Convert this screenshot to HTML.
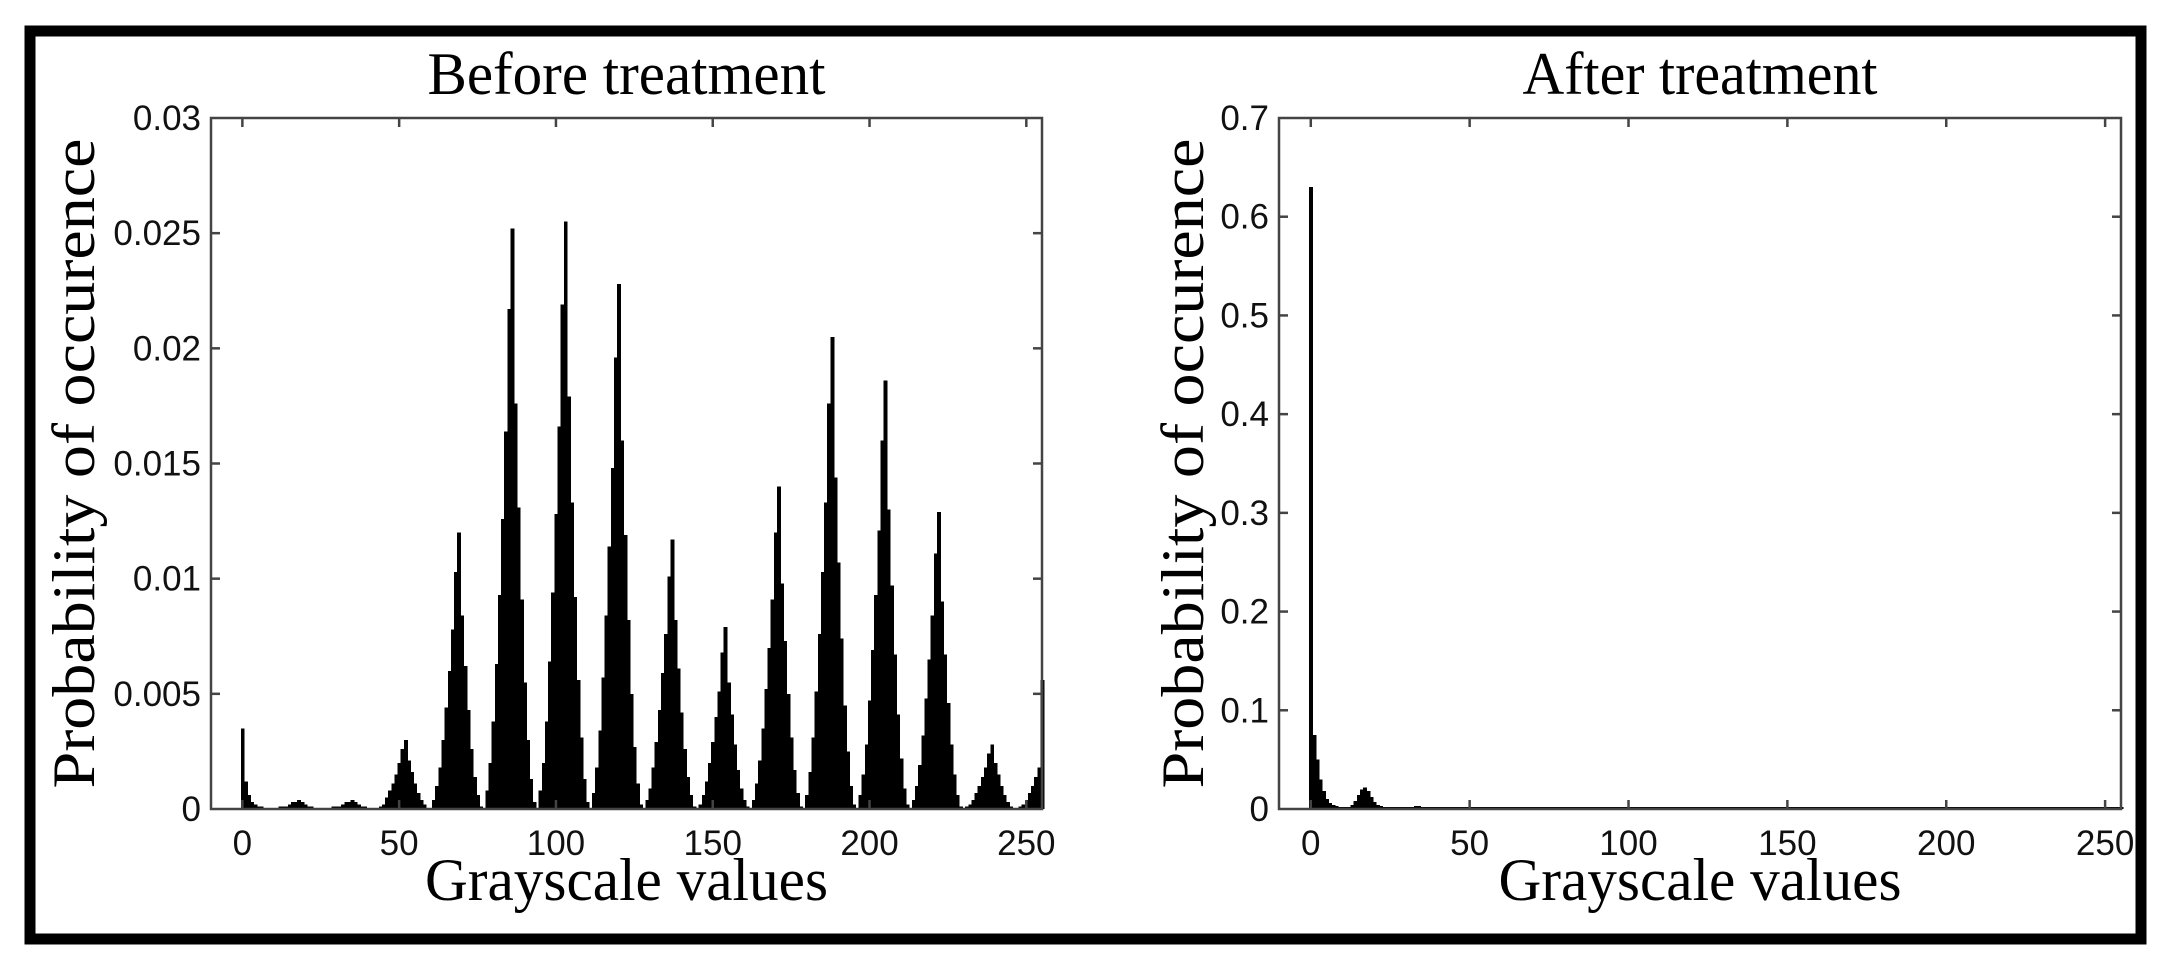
<!DOCTYPE html>
<html><head><meta charset="utf-8"><style>
html,body{margin:0;padding:0;background:#fff;}
svg{display:block;}
.tk{font-family:"Liberation Sans",Arial,sans-serif;font-size:35px;fill:#111;}
.sr{font-family:"Liberation Serif","Times New Roman",serif;font-size:60px;fill:#000;}
</style></head><body>
<svg id="fig" width="2173" height="971" viewBox="0 0 2173 971" xmlns="http://www.w3.org/2000/svg">
<rect x="30" y="31" width="2111" height="908" fill="none" stroke="#000" stroke-width="11"/>
<g id="left"></g>
<g id="right"></g>
</svg>
<script>
// Before treatment: probability per grayscale 0..255, in units of 1e-4
const beforeValues = [
35,12,6,3,2,1,1,0,0,
0,0,0,1,1,1,2,3,3,4,3,2,1,1,0,0,0,
0,0,0,1,1,1,2,3,3,4,3,2,1,1,0,0,0,
0,1,2,5,8,11,15,20,26,30,21,16,11,7,4,2,0,
0,4,10,18,30,44,60,78,103,120,84,62,43,26,14,6,1,
0,8,20,38,63,93,126,164,217,252,176,131,91,55,30,13,3,
0,8,20,38,64,94,128,166,219,255,179,133,92,56,31,13,3,
0,7,18,34,57,84,114,148,196,228,160,119,82,50,27,11,2,
0,4,9,18,29,43,59,76,101,117,82,61,42,26,14,6,1,
0,2,6,12,20,29,40,51,68,79,55,41,28,17,9,4,1,
0,4,11,21,35,52,70,91,120,140,98,73,50,31,17,7,1,
0,6,16,31,51,76,103,133,176,205,144,107,74,45,25,10,2,
0,6,15,28,47,69,93,121,160,186,130,97,67,41,22,9,2,
0,4,10,19,32,48,65,84,111,129,90,67,46,28,15,6,1,
0,1,2,4,7,10,14,18,24,28,20,15,10,6,3,1,0,
0,1,2,4,7,10,14,18,56];
const beforeUnit = 1e-4;
const beforeYTicks = ["0","0.005","0.01","0.015","0.02","0.025","0.03"];
const beforeYTickValues = [0,0.005,0.01,0.015,0.02,0.025,0.03];
// After treatment: probability per grayscale 0..255, in units of 1e-3
const afterValues = [
630,75,50,30,18,10,6,4,3,2,2,2,2,4,8,14,20,22,18,12,7,4,3,2,2,2,2,2,2,2,
2,2,2,3,3,2,2,2,2,2,2,2,2,2,2,2,2,2,2,2,2,2,2,2,2,2,2,2,2,2,
2,2,2,2,2,2,2,2,2,2,2,2,2,2,2,2,2,2,2,2,2,2,2,2,2,2,2,2,2,2,
2,2,2,2,2,2,2,2,2,2,2,2,2,2,2,2,2,2,2,2,2,2,2,2,2,2,2,2,2,2,
2,2,2,2,2,2,2,2,2,2,2,2,2,2,2,2,2,2,2,2,2,2,2,2,2,2,2,2,2,2,
2,2,2,2,2,2,2,2,2,2,2,2,2,2,2,2,2,2,2,2,2,2,2,2,2,2,2,2,2,2,
2,2,2,2,2,2,2,2,2,2,2,2,2,2,2,2,2,2,2,2,2,2,2,2,2,2,2,2,2,2,
2,2,2,2,2,2,2,2,2,2,2,2,2,2,2,2,2,2,2,2,2,2,2,2,2,2,2,2,2,2,
2,2,2,2,2,2,2,2,2,2,2,2,2,2,2,2];
const afterUnit = 1e-3;
const afterYTicks = ["0","0.1","0.2","0.3","0.4","0.5","0.6","0.7"];
const afterYTickValues = [0,0.1,0.2,0.3,0.4,0.5,0.6,0.7];
const xTicks = ["0","50","100","150","200","250"];
const xTickValues = [0,50,100,150,200,250];

const NS = "http://www.w3.org/2000/svg";
function mk(tag, attrs, parent){
  const e = document.createElementNS(NS, tag);
  for (const k in attrs) e.setAttribute(k, attrs[k]);
  parent.appendChild(e); return e;
}
function drawChart(g, cfg){
  const L=cfg.left, R=cfg.right, T=118, B=809;
  const x0=-10, x1=255;
  const xs = v => L + (v - x0) / (x1 - x0) * (R - L);
  const ys = v => B - v / cfg.ymax * (B - T);
  const bars = mk("g", {"shape-rendering": "crispEdges"}, g);
  
  
  cfg.values.forEach((v, i) => {
    const p = v * cfg.unit;
    if (p <= 0) return;
    const r = mk("rect", {x: xs(i - 0.5), y: ys(p), width: xs(i + 0.5) - xs(i - 0.5) + 0.8, height: B - ys(p), fill: "#000"}, bars);
    
    
  });
  const box = mk("rect", {x: L, y: T, width: R - L, height: B - T, fill: "none", stroke: "#444", "stroke-width": 2.5}, g);
  
  
  cfg.yTickValues.forEach((v, i) => {
    const y = ys(v);
    if (i > 0 && i < cfg.yTickValues.length - 1) {
      mk("line", {x1: L, x2: L + 9, y1: y, y2: y, stroke: "#444", "stroke-width": 2.5}, g);
      mk("line", {x1: R, x2: R - 9, y1: y, y2: y, stroke: "#444", "stroke-width": 2.5}, g);
    }
    const t = mk("text", {x: L - 10, y: y + 12, "text-anchor": "end", class: "tk"}, g);
    t.textContent = cfg.yTicks[i];
    
    
  });
  xTickValues.forEach((v, i) => {
    const x = xs(v);
    mk("line", {x1: x, x2: x, y1: B, y2: B - 9, stroke: "#444", "stroke-width": 2.5}, g);
    mk("line", {x1: x, x2: x, y1: T, y2: T + 9, stroke: "#444", "stroke-width": 2.5}, g);
    const t = mk("text", {x: x, y: 855, "text-anchor": "middle", class: "tk"}, g);
    t.textContent = xTicks[i];
    
    
  });
  const cx = (L + R) / 2;
  const title = mk("text", {x: cx, y: 94, "text-anchor": "middle", class: "sr", textLength: cfg.titleLen, lengthAdjust: "spacingAndGlyphs"}, g);
  title.textContent = cfg.title;
  
  
  const xl = mk("text", {x: cx, y: 900, "text-anchor": "middle", class: "sr", textLength: 403, lengthAdjust: "spacingAndGlyphs"}, g);
  xl.textContent = "Grayscale values";
  
  
  const yl = mk("text", {x: 0, y: 0, "text-anchor": "middle", class: "sr", textLength: 650, lengthAdjust: "spacingAndGlyphs", transform: "translate(" + cfg.ylx + "," + ((T + B) / 2) + ") rotate(-90)"}, g);
  yl.textContent = "Probability of occurence";
  
  
}
drawChart(document.getElementById("left"), {left: 211, right: 1042, ymax: 0.03, values: beforeValues, unit: beforeUnit, yTicks: beforeYTicks, yTickValues: beforeYTickValues, title: "Before treatment", titleLen: 398, ylx: 94});
drawChart(document.getElementById("right"), {left: 1279, right: 2121, ymax: 0.7, values: afterValues, unit: afterUnit, yTicks: afterYTicks, yTickValues: afterYTickValues, title: "After treatment", titleLen: 355, ylx: 1203});
</script>
</body></html>
